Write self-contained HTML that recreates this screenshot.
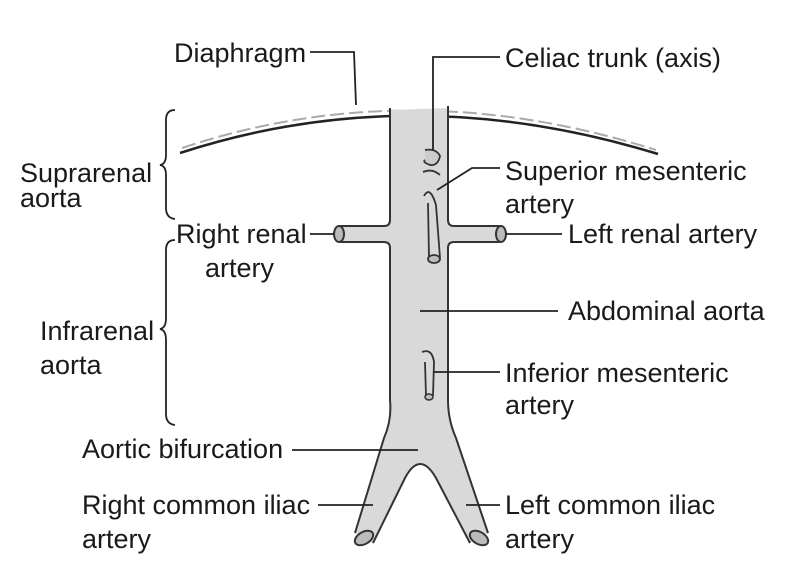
<!DOCTYPE html>
<html><head><meta charset="utf-8"><style>
html,body{margin:0;padding:0;background:#fff;}
svg{display:block}
text{font-family:"Liberation Sans",Arial,sans-serif;font-size:27px;fill:#1a1a1a;}
</style></head><body>
<svg width="794" height="561" viewBox="0 0 794 561">
<!-- diaphragm -->
<path d="M182 148 Q410 72 656 150" fill="none" stroke="#aaa" stroke-width="2" stroke-dasharray="14 5"/>
<path d="M180 153 Q410 78 658 154" fill="none" stroke="#222" stroke-width="2.5"/>
<!-- aorta body -->
<path d="M390 110 L390 220 Q390 226 384 226 L340 226 L340 242 L384 242 Q390 242 390 248 L390 400 Q392 420 384 438 L355 533 L373 543 L405 478 Q420 450 436 478 L470 543 L488 533 L456 438 Q448 420 448 400 L448 248 Q448 242 454 242 L500 242 L500 226 L454 226 Q448 226 448 220 L448 108 Z" fill="#d9d9d9" stroke="none"/>
<path d="M390 108 L390 220 Q390 226 384 226 L340 226 M340 242 L384 242 Q390 242 390 248 L390 400 Q392 420 384 438 L355 533 M373 543 L405 478 Q420 450 436 478 L470 543 M488 533 L456 438 Q448 420 448 400 L448 248 Q448 242 454 242 L500 242 M500 226 L454 226 Q448 226 448 220 L448 106" fill="none" stroke="#333" stroke-width="2"/>
<!-- cylinder ends -->
<ellipse cx="339" cy="234" rx="5" ry="8" fill="#bbb" stroke="#333" stroke-width="2"/>
<ellipse cx="501" cy="234" rx="5" ry="8" fill="#bbb" stroke="#333" stroke-width="2"/>
<ellipse cx="364" cy="538" rx="10" ry="6" transform="rotate(-30 364 538)" fill="#bbb" stroke="#333" stroke-width="2"/>
<ellipse cx="479" cy="538" rx="10" ry="6" transform="rotate(30 479 538)" fill="#bbb" stroke="#333" stroke-width="2"/>
<!-- celiac -->
<path d="M425 150 Q436 148 440 156 Q438 166 430 165 Q422 162 425 160" fill="#ccc" stroke="#333" stroke-width="1.8"/>
<path d="M423 172 Q432 168 440 175" fill="none" stroke="#333" stroke-width="1.8"/>
<!-- SMA -->
<path d="M424 196 Q430 185 436 205 L440 258 M428 203 L429 258" fill="none" stroke="#333" stroke-width="1.8"/>
<ellipse cx="434" cy="259" rx="6" ry="4" fill="#bbb" stroke="#333" stroke-width="1.8"/>
<!-- IMA -->
<path d="M422 352 Q432 348 434 362 L433 396 M425 362 L426 396" fill="none" stroke="#333" stroke-width="1.8"/>
<ellipse cx="429" cy="397" rx="4" ry="3" fill="#bbb" stroke="#333" stroke-width="1.5"/>
<!-- leader lines -->
<g stroke="#222" stroke-width="1.8" fill="none">
<path d="M310 52 L354 52 L356 105"/>
<path d="M500 57 L433 57 L433 150"/>
<path d="M500 168 L472 168 L437 190"/>
<path d="M505 234 L562 234"/>
<path d="M310 234 L334 234"/>
<path d="M420 311 L558 311"/>
<path d="M433 372 L500 372"/>
<path d="M292 450 L418 450"/>
<path d="M318 505 L373 505"/>
<path d="M466 505 L500 505"/>
<path d="M175 110 Q166 110 166 120 L166 155 Q166 164 160 165 Q166 166 166 175 L166 208 Q166 218 175 219"/>
<path d="M175 240 Q166 240 166 250 L166 318 Q166 328 160 329 Q166 330 166 340 L166 414 Q166 424 175 425"/>
</g>
<!-- labels -->
<text x="174" y="62">Diaphragm</text>
<text x="505" y="67">Celiac trunk (axis)</text>
<text x="20" y="182">Suprarenal</text>
<text x="20" y="207">aorta</text>
<text x="505" y="180">Superior mesenteric</text>
<text x="505" y="213">artery</text>
<text x="176" y="243">Right renal</text>
<text x="205" y="277">artery</text>
<text x="568" y="243">Left renal artery</text>
<text x="568" y="320">Abdominal aorta</text>
<text x="40" y="340">Infrarenal</text>
<text x="40" y="374">aorta</text>
<text x="505" y="382">Inferior mesenteric</text>
<text x="505" y="414">artery</text>
<text x="82" y="458">Aortic bifurcation</text>
<text x="82" y="514">Right common iliac</text>
<text x="82" y="548">artery</text>
<text x="505" y="514">Left common iliac</text>
<text x="505" y="548">artery</text>
</svg>
</body></html>
